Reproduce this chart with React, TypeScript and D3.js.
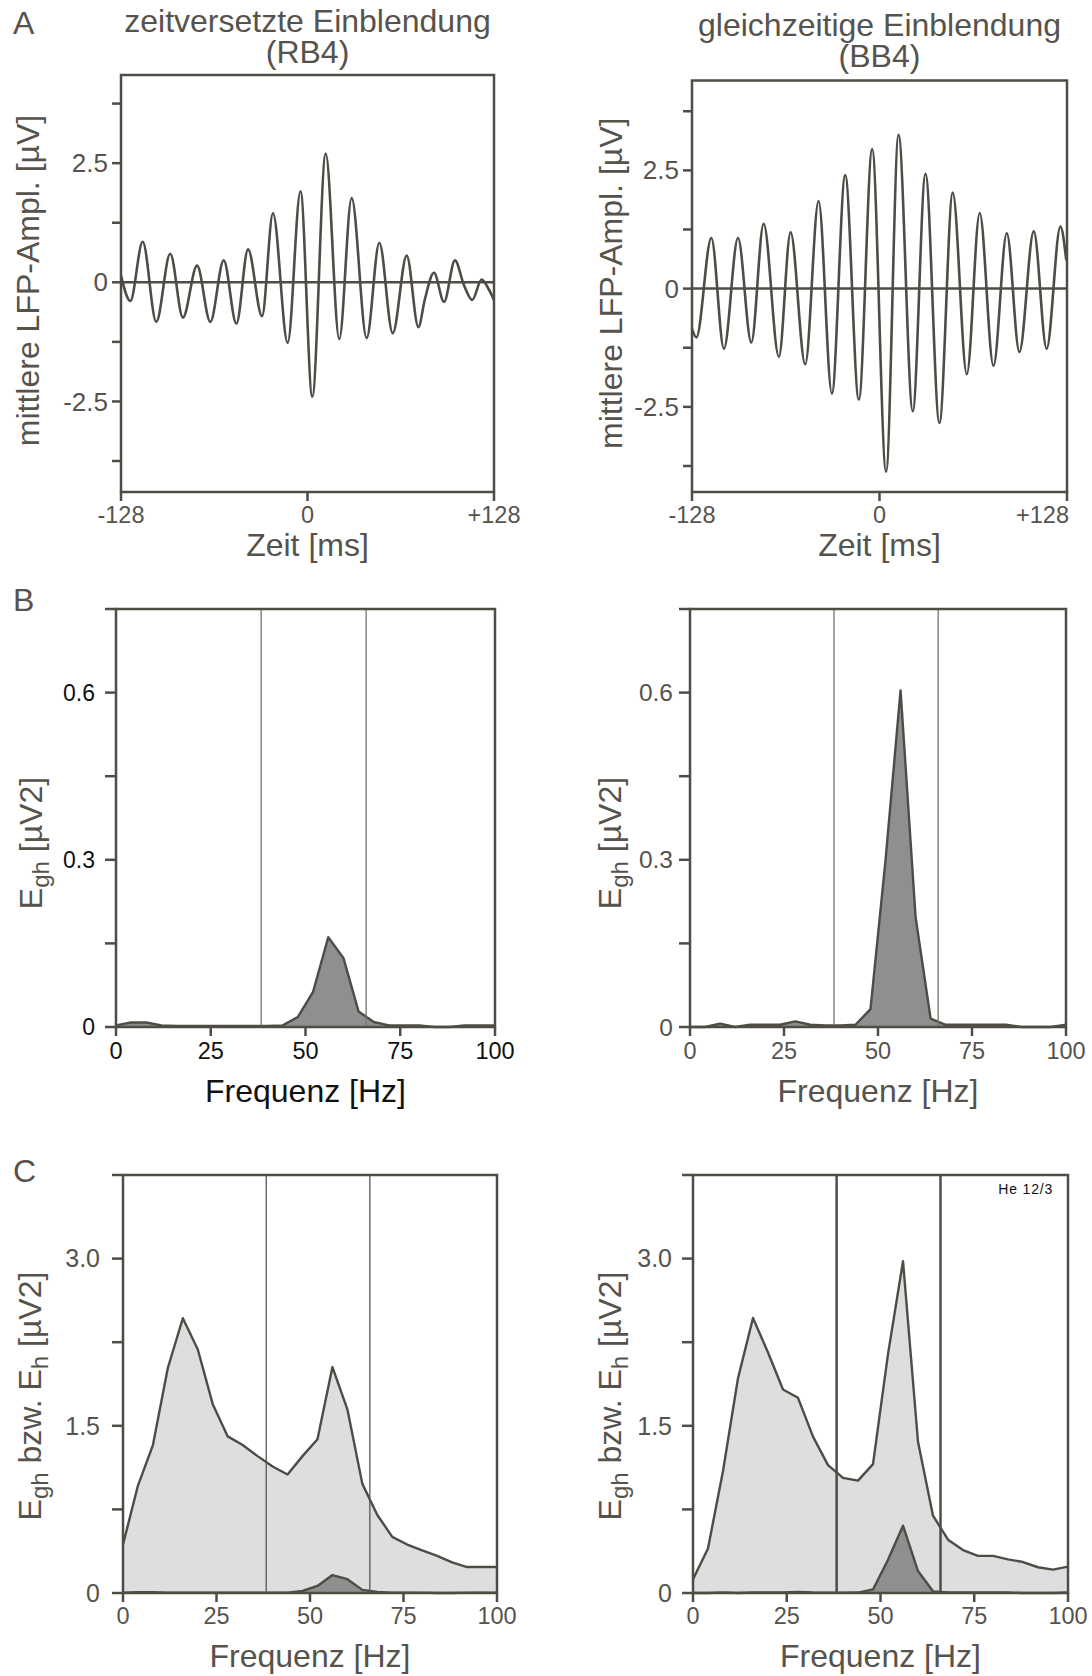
import React from 'react';
import * as d3 from 'd3';

// ---------- data ----------
const timeTicks = [-128, 0, 128];
const timeTickLabels = ['-128', '0', '+128'];
const lfpTicks = [-3.75, -2.5, -1.25, 0, 1.25, 2.5, 3.75];
const lfpTickLabels = ['', '-2.5', '', '0', '', '2.5', ''];

// LFP trace extremes (time in ms, amplitude in µV)
const timeLeft = [-128, -121.6, -113.1, -103.8, -94.2, -85.5, -75.8, -66.7, -57.5, -48.8, -40.8, -31.2, -23.7, -13.6, -4.8, 3.3, 12.5, 21.8, 30.3, 40.6, 49.3, 58.5, 68.1, 76.1, 80.6, 86.8, 93.7, 101.2, 107.4, 113.1, 119.5, 124.1, 128];
const lfpLeft = [0.14, -0.39, 0.85, -0.83, 0.6, -0.74, 0.35, -0.83, 0.46, -0.87, 0.69, -0.71, 1.45, -1.27, 1.91, -2.4, 2.7, -1.19, 1.77, -1.17, 0.83, -1.07, 0.56, -0.94, -0.35, 0.2, -0.41, 0.46, -0.06, -0.37, 0.06, -0.13, -0.37];

const timeRight = [-128, -125, -114.8, -106.2, -96.6, -87.5, -79.1, -68.7, -60.7, -50.7, -41.6, -32.5, -23.4, -14.1, -5.0, 4.5, 13.0, 22.7, 31.4, 40.9, 50.0, 59.6, 68.4, 77.8, 86.9, 95.5, 105.3, 114.1, 123.5, 127.5];
const lfpRight = [-0.85, -1.03, 1.07, -1.27, 1.07, -1.14, 1.37, -1.44, 1.19, -1.6, 1.85, -2.22, 2.4, -2.35, 2.95, -3.87, 3.25, -2.59, 2.43, -2.84, 2.03, -1.81, 1.6, -1.63, 1.17, -1.34, 1.21, -1.27, 1.31, 0.6];

const freqs = [0, 4, 8, 12, 16, 20, 24, 28, 32, 36, 40, 44, 48, 52, 56, 60, 64, 68, 72, 76, 80, 84, 88, 92, 96, 100];
const freqTicks = [0, 25, 50, 75, 100];

// Egh (gamma coherent energy)
const eghLeft = [0.003, 0.008, 0.008, 0.003, 0.002, 0.002, 0.002, 0.002, 0.002, 0.002, 0.002, 0.003, 0.018, 0.063, 0.161, 0.124, 0.028, 0.009, 0.003, 0.003, 0.003, 0.0, 0.0, 0.003, 0.003, 0.003];
const eghRight = [0.0, 0.0, 0.006, 0.0, 0.004, 0.004, 0.004, 0.01, 0.004, 0.003, 0.003, 0.004, 0.032, 0.299, 0.604, 0.197, 0.015, 0.004, 0.004, 0.004, 0.004, 0.004, 0.0, 0.0, 0.0, 0.004];
// Eh (total energy)
const ehLeft = [0.435, 0.964, 1.327, 2.02, 2.465, 2.185, 1.694, 1.405, 1.327, 1.228, 1.135, 1.063, 1.228, 1.38, 2.027, 1.648, 0.979, 0.7, 0.504, 0.435, 0.382, 0.333, 0.274, 0.233, 0.233, 0.233];
const ehRight = [0.123, 0.4, 1.095, 1.927, 2.467, 2.158, 1.825, 1.751, 1.403, 1.147, 1.033, 1.008, 1.156, 2.143, 2.976, 1.357, 0.694, 0.478, 0.385, 0.333, 0.333, 0.302, 0.278, 0.231, 0.21, 0.237];

const bandEdges = [38.3, 66];

const eghTicks = [0, 0.15, 0.3, 0.45, 0.6, 0.75];
const eghTickLabels = ['0', '', '0.3', '', '0.6', ''];
const ehTicks = [0, 0.75, 1.5, 2.25, 3.0, 3.75];
const ehTickLabels = ['0', '', '1.5', '', '3.0', ''];

// ---------- styles ----------
const FONT = '"Liberation Sans", Arial, Helvetica, sans-serif';
const INK = '#4f4c45';
const TXT = '#56534c';
const DARK_FILL = '#8f8f8f';
const LIGHT_FILL = '#dedede';

type Box = { x0: number; x1: number; y0: number; y1: number };

function YLabelLFP({ x, y }: { x: number; y: number }) {
  return (
    <text transform={`translate(${x},${y}) rotate(-90)`} textAnchor="middle" fontSize={32} fill={TXT}>
      mittlere LFP-Ampl. [µV]
    </text>
  );
}

function YLabelE({ x, y, both }: { x: number; y: number; both: boolean }) {
  return (
    <text transform={`translate(${x},${y}) rotate(-90)`} textAnchor="middle" fontSize={32} fill={TXT}>
      E<tspan fontSize={24} dy={7}>gh</tspan>
      {both ? (
        <>
          <tspan dy={-7}>{' bzw. E'}</tspan>
          <tspan fontSize={24} dy={7}>h</tspan>
        </>
      ) : null}
      <tspan dy={-7}>{' [µV2]'}</tspan>
    </text>
  );
}

function LfpPanel({ box, yDomain, times, values, title, titleY, labelX, lastEnd }: {
  box: Box; yDomain: [number, number]; times: number[]; values: number[]; title: string[]; titleY: number[]; labelX: number; lastEnd: boolean;
}) {
  const x = d3.scaleLinear().domain([-128, 128]).range([box.x0, box.x1]);
  const y = d3.scaleLinear().domain(yDomain).range([box.y1, box.y0]);
  const pts = times.map((t, i) => [t, values[i]] as [number, number]);
  const line = d3.line<[number, number]>().x(d => x(d[0])).y(d => y(d[1])).curve(d3.curveMonotoneX);
  const cx = (box.x0 + box.x1) / 2;
  return (
    <g>
      {title.map((t, i) => (
        <text key={i} x={cx} y={titleY[i]} textAnchor="middle" fontSize={32} fill={TXT}>{t}</text>
      ))}
      <rect x={box.x0} y={box.y0} width={box.x1 - box.x0} height={box.y1 - box.y0} fill="none" stroke={INK} strokeWidth={2.5} />
      {lfpTicks.map((v, i) => (
        <g key={i}>
          <line x1={box.x0 - 9} x2={box.x0} y1={y(v)} y2={y(v)} stroke={INK} strokeWidth={2.5} />
          {lfpTickLabels[i] ? (
            <text x={box.x0 - 13} y={y(v)} dy="0.35em" textAnchor="end" fontSize={26} fill={TXT}>{lfpTickLabels[i]}</text>
          ) : null}
        </g>
      ))}
      {timeTicks.map((t, i) => {
        const isLastEnd = lastEnd && i === timeTicks.length - 1;
        return (
          <g key={i}>
            <line x1={x(t)} x2={x(t)} y1={box.y1} y2={box.y1 + 9} stroke={INK} strokeWidth={2.5} />
            <text x={isLastEnd ? x(t) + 2 : x(t)} y={box.y1 + 31} textAnchor={isLastEnd ? 'end' : 'middle'} fontSize={23.5} fill={TXT}>{timeTickLabels[i]}</text>
          </g>
        );
      })}
      <line x1={box.x0} x2={box.x1} y1={y(0)} y2={y(0)} stroke={INK} strokeWidth={2.5} />
      <path d={line(pts) || ''} fill="none" stroke={INK} strokeWidth={2.6} strokeLinejoin="round" />
      <text x={cx} y={box.y1 + 64} textAnchor="middle" fontSize={32} fill={TXT}>Zeit [ms]</text>
      <YLabelLFP x={labelX} y={(box.y0 + box.y1) / 2 - 3} />
    </g>
  );
}

function EnergyPanel({ box, yMax, ticks, tickLabels, egh, eh, bandWidth, bandColor, labelX, labelY, tickGap, tickColor, tickFont, tickLabelY, titleY }: {
  box: Box; yMax: number; ticks: number[]; tickLabels: string[]; egh: number[]; eh: number[] | null;
  bandWidth: number; bandColor: string; labelX: number; labelY: number; tickGap: number; tickColor: string; tickFont: number; tickLabelY: number; titleY: number;
}) {
  const x = d3.scaleLinear().domain([0, 100]).range([box.x0, box.x1]);
  const y = d3.scaleLinear().domain([0, yMax]).range([box.y1, box.y0]);
  const area = d3.area<number>().x((_, i) => x(freqs[i])).y0(y(0)).y1(d => y(d));
  const line = d3.line<number>().x((_, i) => x(freqs[i])).y(d => y(d));
  const cx = (box.x0 + box.x1) / 2;
  return (
    <g>
      {eh ? (
        <>
          <path d={area(eh) || ''} fill={LIGHT_FILL} />
          <path d={line(eh) || ''} fill="none" stroke={INK} strokeWidth={2.4} strokeLinejoin="round" />
        </>
      ) : null}
      <path d={area(egh) || ''} fill={DARK_FILL} />
      <path d={line(egh) || ''} fill="none" stroke={INK} strokeWidth={2.4} strokeLinejoin="round" />
      {bandEdges.map((f, i) => (
        <line key={i} x1={x(f)} x2={x(f)} y1={box.y0} y2={box.y1} stroke={bandColor} strokeWidth={bandWidth} />
      ))}
      <rect x={box.x0} y={box.y0} width={box.x1 - box.x0} height={box.y1 - box.y0} fill="none" stroke={INK} strokeWidth={2.5} />
      {ticks.map((v, i) => (
        <g key={i}>
          <line x1={box.x0 - 11} x2={box.x0} y1={y(v)} y2={y(v)} stroke={INK} strokeWidth={2.5} />
          {tickLabels[i] ? (
            <text x={box.x0 - tickGap} y={y(v)} dy="0.35em" textAnchor="end" fontSize={tickFont} fill={tickColor}>{tickLabels[i]}</text>
          ) : null}
        </g>
      ))}
      {freqTicks.map((f, i) => (
        <g key={i}>
          <line x1={x(f)} x2={x(f)} y1={box.y1} y2={box.y1 + 9} stroke={INK} strokeWidth={2.5} />
          <text x={x(f)} y={tickLabelY} textAnchor="middle" fontSize={23.5} fill={tickColor}>{String(f)}</text>
        </g>
      ))}
      <text x={cx} y={titleY} textAnchor="middle" fontSize={32} fill={tickColor}>Frequenz [Hz]</text>
      <YLabelE x={labelX} y={labelY} both={!!eh} />
    </g>
  );
}

export default function App() {
  const W = 1092;
  const H = 1676;
  const aL: Box = { x0: 121, x1: 494, y0: 75, y1: 492 };
  const aR: Box = { x0: 692, x1: 1067, y0: 80.5, y1: 492 };
  const bL: Box = { x0: 116, x1: 495, y0: 609, y1: 1027 };
  const bR: Box = { x0: 690, x1: 1066, y0: 609, y1: 1027 };
  const cL: Box = { x0: 123, x1: 497, y0: 1175, y1: 1593 };
  const cR: Box = { x0: 693, x1: 1068, y0: 1175, y1: 1593 };
  return (
    <svg width={W} height={H} viewBox={`0 0 ${W} ${H}`} style={{ position: 'absolute', left: 0, top: 0, background: '#fff' }} fontFamily={FONT}>
      <rect x={0} y={0} width={W} height={H} fill="#fff" />
      <text x={13} y={34} fontSize={32} fill={TXT}>A</text>
      <text x={13} y={611} fontSize={32} fill={TXT}>B</text>
      <text x={13} y={1182} fontSize={32} fill={TXT}>C</text>

      <LfpPanel box={aL} yDomain={[-4.4, 4.35]} times={timeLeft} values={lfpLeft}
        title={['zeitversetzte Einblendung', '(RB4)']} titleY={[32, 63]} labelX={39} lastEnd={false} />
      <LfpPanel box={aR} yDomain={[-4.3, 4.4]} times={timeRight} values={lfpRight}
        title={['gleichzeitige Einblendung', '(BB4)']} titleY={[36, 67]} labelX={622} lastEnd={true} />

      <EnergyPanel box={bL} yMax={0.75} ticks={eghTicks} tickLabels={eghTickLabels} egh={eghLeft} eh={null}
        bandWidth={1.3} bandColor="#77756f" labelX={42} labelY={843} tickGap={21} tickColor="#111" tickFont={23}
        tickLabelY={1059} titleY={1102} />
      <EnergyPanel box={bR} yMax={0.75} ticks={eghTicks} tickLabels={eghTickLabels} egh={eghRight} eh={null}
        bandWidth={1.3} bandColor="#77756f" labelX={621} labelY={843} tickGap={17} tickColor={TXT} tickFont={24.5}
        tickLabelY={1059} titleY={1102} />

      <EnergyPanel box={cL} yMax={3.75} ticks={ehTicks} tickLabels={ehTickLabels} egh={eghLeft} eh={ehLeft}
        bandWidth={1.3} bandColor="#5a5750" labelX={41} labelY={1396} tickGap={23} tickColor={TXT} tickFont={25}
        tickLabelY={1624} titleY={1667} />
      <EnergyPanel box={cR} yMax={3.75} ticks={ehTicks} tickLabels={ehTickLabels} egh={eghRight} eh={ehRight}
        bandWidth={2.5} bandColor={INK} labelX={621} labelY={1396} tickGap={21} tickColor={TXT} tickFont={25}
        tickLabelY={1624} titleY={1667} />
      <text x={1053} y={1194} textAnchor="end" fontSize={14} letterSpacing={0.8} fill="#111">He 12/3</text>
    </svg>
  );
}
